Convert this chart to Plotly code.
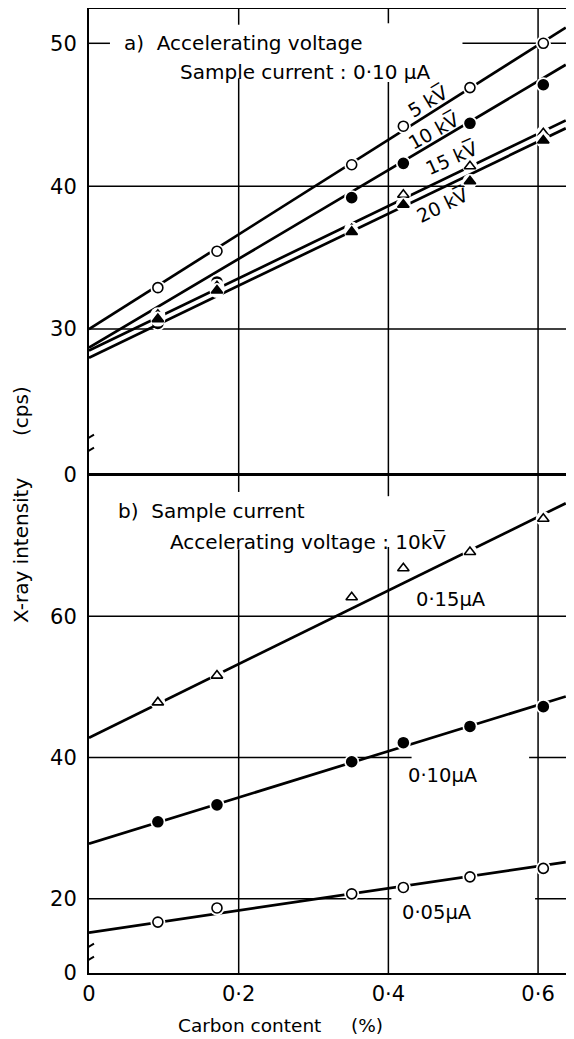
import plotly.graph_objects as go

# ---------------- data ----------------
carbon = [0.092, 0.171, 0.351, 0.420, 0.509, 0.607]   # Carbon content (%)

# a) Accelerating voltage, sample current 0.10 uA
kv5 = [32.9, 35.45, 41.5, 44.2, 46.9, 50.0]
kv10 = [30.4, 33.3, 39.2, 41.6, 44.4, 47.1]
kv15 = [31.0, 33.0, 37.0, 39.4, 41.4, 43.7]
kv20 = [30.7, 32.7, 36.8, 38.7, 40.35, 43.2]

# b) Sample current, accelerating voltage 10 kV
ua15 = [47.8, 51.6, 62.7, 66.8, 69.1, 73.8]
ua10 = [30.9, 33.3, 39.4, 42.1, 44.4, 47.2]
ua05 = [16.7, 18.7, 20.7, 21.6, 23.1, 24.3]

# fitted straight lines: value at x = 0 and at the line end
fit_x = [0.0, 0.637]
fit_kv5 = [30.0, 51.1]
fit_kv10 = [28.7, 48.5]
fit_kv15 = [28.5, 44.6]
fit_kv20 = [28.0, 44.05]
fit_ua15 = [42.8, 76.0]
fit_ua10 = [27.8, 48.65]
fit_ua05 = [15.2, 25.2]

x_ticks = [0, 0.2, 0.4, 0.6]
x_ticktext = ["0", "0·2", "0·4", "0·6"]
top_ticks = [19.8, 30, 40, 50]
top_ticktext = ["0", "30", "40", "50"]
bot_ticks = [9.5, 20, 40, 60]
bot_ticktext = ["0", "20", "40", "60"]

KV = "kV\u0305"
FONT = "DejaVu Sans"

fig = go.Figure()


def add_series(xs, ys, fy, symbol, filled, xa, ya):
    fig.add_trace(go.Scatter(x=fit_x, y=fy, mode="lines", xaxis=xa, yaxis=ya,
                             line=dict(color="black", width=2.7), hoverinfo="skip"))
    fig.add_trace(go.Scatter(x=xs, y=ys, mode="markers", xaxis=xa, yaxis=ya,
                             marker=dict(symbol="circle", size=15, color="white",
                                         line=dict(width=0)), hoverinfo="skip"))
    fig.add_trace(go.Scatter(x=xs, y=ys, mode="markers", xaxis=xa, yaxis=ya,
                             marker=dict(symbol=symbol, size=10,
                                         color="black" if filled else "white",
                                         line=dict(color="black", width=1.6))))


add_series(carbon, kv5, fit_kv5, "circle", False, "x2", "y2")
add_series(carbon, kv10, fit_kv10, "circle", True, "x2", "y2")
add_series(carbon, kv15, fit_kv15, "triangle-up", False, "x2", "y2")
add_series(carbon, kv20, fit_kv20, "triangle-up", True, "x2", "y2")
add_series(carbon, ua15, fit_ua15, "triangle-up", False, "x", "y")
add_series(carbon, ua10, fit_ua10, "circle", True, "x", "y")
add_series(carbon, ua05, fit_ua05, "circle", False, "x", "y")

XMAX = 0.644
TOP = [19.79, 52.4]
BOT = [9.49, 80.0]

shapes = []


def seg(xref, yref, x0, y0, x1, y1, w=1.5, layer="below"):
    shapes.append(dict(type="line", xref=xref, yref=yref, x0=x0, y0=y0, x1=x1, y1=y1,
                       line=dict(color="black", width=w), layer=layer))


# top panel grid (with gaps where text sits)
seg("x2", "y2", 0, 50, 0.028, 50)
seg("x2", "y2", 0.499, 50, XMAX, 50)
seg("x2", "y2", 0, 40, XMAX, 40)
seg("x2", "y2", 0, 30, XMAX, 30)
seg("x2", "y2", 0.2, TOP[1], 0.2, 51.3)
seg("x2", "y2", 0.2, 47.55, 0.2, TOP[0])
seg("x2", "y2", 0.4, TOP[1], 0.4, 51.4)
seg("x2", "y2", 0.4, 47.3, 0.4, TOP[0])
seg("x2", "y2", 0.6, TOP[1], 0.6, TOP[0])
# bottom panel grid
seg("x", "y", 0, 60, XMAX, 60)
seg("x", "y", 0, 40, 0.431, 40)
seg("x", "y", 0.588, 40, XMAX, 40)
seg("x", "y", 0, 20, 0.404, 20)
seg("x", "y", 0.596, 20, XMAX, 20)
seg("x", "y", 0.2, BOT[1], 0.2, 77.6)
seg("x", "y", 0.2, 69.5, 0.2, BOT[0])
seg("x", "y", 0.4, BOT[1], 0.4, 77.0)
seg("x", "y", 0.4, 69.8, 0.4, BOT[0])
seg("x", "y", 0.6, BOT[1], 0.6, BOT[0])
# boundary between the panels (the "0" line of panel a)
seg("x", "y", 0, BOT[1], XMAX, BOT[1], w=2, layer="above")

# axis breaks
for yref, yc in (("y2", 21.95), ("y", 12.3)):
    shapes.append(dict(type="rect", xref="x", yref=yref, xsizemode="pixel", ysizemode="pixel",
                       xanchor=0, yanchor=yc, x0=-3, x1=3, y0=-5, y1=5,
                       fillcolor="white", line=dict(width=0), layer="above"))
    for dy in (-6.5, 6.5):
        shapes.append(dict(type="line", xref="x", yref=yref, xsizemode="pixel", ysizemode="pixel",
                           xanchor=0, yanchor=yc, x0=-5, x1=5, y0=dy - 3, y1=dy + 3,
                           line=dict(color="black", width=2), layer="above"))

ann = []


def text(xref, yref, x, y, t, size=20, angle=0, xanchor="left"):
    ann.append(dict(xref=xref, yref=yref, x=x, y=y, text=t, showarrow=False,
                    xanchor=xanchor, yanchor="middle", textangle=angle,
                    font=dict(family=FONT, size=size, color="black")))


text("x2", "y2", 0.044, 50.0, "a)  Accelerating voltage")
text("x2", "y2", 0.119, 48.0, "Sample current : 0·10 μA")
text("x2", "y2", 0.452, 46.0, "5 " + KV, size=19, angle=-31, xanchor="center")
text("x2", "y2", 0.459, 43.9, "10 " + KV, size=19, angle=-29, xanchor="center")
text("x2", "y2", 0.483, 42.0, "15 " + KV, size=19, angle=-24, xanchor="center")
text("x2", "y2", 0.471, 38.7, "20 " + KV, size=19, angle=-26, xanchor="center")
text("x", "y", 0.0355, 74.9, "b)  Sample current")
text("x", "y", 0.105, 70.6, "Accelerating voltage : 10" + KV)
text("x", "y", 0.4336, 62.4, "0·15μA", size=19.5)
text("x", "y", 0.4229, 37.45, "0·10μA", size=19.5)
text("x", "y", 0.415, 18.0, "0·05μA", size=19.5)

# figure is placed 8 px in from the page corner (default body margin)
PW, PH = 566, 1031
ML, MR, MT, MB = 81, 3, 1, 66
plot_w = PW - ML - MR
plot_h = PH - MT - MB
bottom_px = 8 + PH - MB   # 973


def px_to_paper(px, py):
    return (px - 8 - ML) / plot_w, (bottom_px - py) / plot_h


for t, (px, py), size in (("X-ray intensity", (21, 551), 20), ("(cps)", (21, 411), 20)):
    xp, yp = px_to_paper(px, py)
    ann.append(dict(xref="paper", yref="paper", x=xp, y=yp, text=t, showarrow=False,
                    textangle=-90, xanchor="center", yanchor="middle",
                    font=dict(family=FONT, size=size, color="black")))
for t, (px, py) in (("Carbon content", (249.5, 1025)), ("(%)", (367, 1025))):
    xp, yp = px_to_paper(px, py)
    ann.append(dict(xref="paper", yref="paper", x=xp, y=yp, text=t, showarrow=False,
                    xanchor="center", yanchor="middle",
                    font=dict(family=FONT, size=18.5, color="black")))

axis_common = dict(showgrid=False, zeroline=False, showline=True, linecolor="black",
                   linewidth=2, ticks="")

split = (bottom_px - 475) / plot_h

fig.update_layout(
    width=PW, height=PH,
    margin=dict(l=ML, r=MR, t=MT, b=MB),
    paper_bgcolor="white", plot_bgcolor="white",
    showlegend=False,
    font=dict(family=FONT, color="black"),
    xaxis=dict(domain=[0, 1], range=[0, XMAX], anchor="y", tickvals=x_ticks, mirror=True,
               ticktext=x_ticktext, tickfont=dict(size=21), ticklabelstandoff=1, **axis_common),
    xaxis2=dict(domain=[0, 1], range=[0, XMAX], anchor="y2", matches="x", side="top",
                mirror=False, showticklabels=False, **axis_common),
    yaxis=dict(domain=[0, split], range=BOT, tickvals=bot_ticks, ticktext=bot_ticktext,
               mirror=True, tickfont=dict(size=21), ticklabelstandoff=6, anchor="x",
               **axis_common),
    yaxis2=dict(domain=[split, 1], range=TOP, tickvals=top_ticks, ticktext=top_ticktext,
                mirror=True, tickfont=dict(size=21), ticklabelstandoff=6, anchor="x2",
                **axis_common),
    shapes=shapes,
    annotations=ann,
)

fig.write_html("out.html")
